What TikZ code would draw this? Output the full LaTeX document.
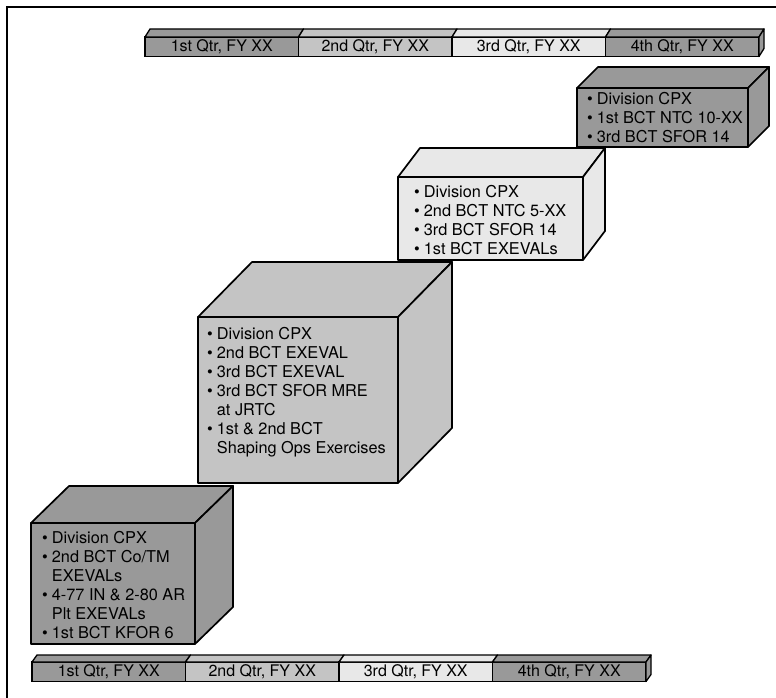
\documentclass[tikz,border=0pt]{standalone}
\usepackage{fontspec}
\setmainfont{TeX Gyre Heros}
\definecolor{qone}{gray}{0.6}
\definecolor{qtwo}{gray}{0.77}
\definecolor{qthree}{gray}{0.91}
\definecolor{qfour}{gray}{0.6}
\tikzset{
  face/.style={draw,line width=1.7pt,line join=round},
  seg/.style={draw,line width=1.3pt,minimum width=153.5pt,minimum height=19.5pt,
    inner sep=0pt,outer sep=0pt,anchor=north west,font=\fontsize{16}{19}\selectfont},
  notes/.style={anchor=north west,inner sep=0pt,align=left,font=\fontsize{16.3}{19}\selectfont}
}
% front corner, back corner offset, colour
\newcommand{\qcube}[7]{%
  \filldraw[face,fill=#7] (#1,#2) -- ++(#5,-#6) -- (#3+#5,#2-#6) -- (#3,#2) -- cycle;
  \filldraw[face,fill=#7] (#3,#2) -- (#3+#5,#2-#6) -- (#3+#5,#4-#6) -- (#3,#4) -- cycle;
  \filldraw[face,fill=#7] (#1,#2) rectangle (#3,#4);}

\begin{document}
\begin{tikzpicture}[x=1pt,y=-1pt]
  \useasboundingbox (0,0) rectangle (776,698);
  \draw[line width=1.6pt] (7,698) -- (7,7) -- (776,7);

  % quarter bars
  \foreach \i/\c/\n in {0/qone/1st,1/qtwo/2nd,2/qthree/3rd,3/qfour/4th} {
    \node[seg,fill=\c] (top\i) at (145+153.5*\i,37) {\n\ Qtr, FY XX};
    \filldraw[face,line width=1.3pt,fill=\c] (top\i.north west) -- ++(5,-8) -- ++(153.5,0) -- (top\i.north east) -- cycle;
    \node[seg,fill=\c] (bot\i) at (32+153.5*\i,662) {\n\ Qtr, FY XX};
    \filldraw[face,line width=1.3pt,fill=\c] (bot\i.north west) -- ++(5,-7) -- ++(153.5,0) -- (bot\i.north east) -- cycle;
  }
  \filldraw[face,line width=1.3pt,fill=qfour] (top3.north east) -- ++(5,-8) -- ++(0,19.5) -- (top3.south east) -- cycle;
  \filldraw[face,line width=1.3pt,fill=qfour] (bot3.north east) -- ++(5,-7) -- ++(0,19.5) -- (bot3.south east) -- cycle;

  % boxes
  \qcube{577}{88}{748}{147}{21}{21}{qfour}
  \qcube{398}{177}{583}{260}{22}{29}{qthree}
  \qcube{198}{317}{398}{483}{54}{55}{qtwo}
  \qcube{31}{523}{195}{644}{38}{37}{qone}

  \node[notes] (n1) at (42,530) {\begin{tabular}{@{}l@{\hspace{4pt}}l@{}}
    \textbullet & Division CPX\\ \textbullet & 2nd BCT Co/TM\\ & EXEVALs\\
    \textbullet & 4-77 IN \& 2-80 AR\\ & Plt EXEVALs\\ \textbullet & 1st BCT KFOR 6\end{tabular}};
  \node[notes] (n2) at (207,326) {\begin{tabular}{@{}l@{\hspace{4pt}}l@{}}
    \textbullet & Division CPX\\ \textbullet & 2nd BCT EXEVAL\\ \textbullet & 3rd BCT EXEVAL\\
    \textbullet & 3rd BCT SFOR MRE\\ & at JRTC\\ \textbullet & 1st \& 2nd BCT\\ & Shaping Ops Exercises\end{tabular}};
  \node[notes] (n3) at (414,184) {\begin{tabular}{@{}l@{\hspace{4pt}}l@{}}
    \textbullet & Division CPX\\ \textbullet & 2nd BCT NTC 5-XX\\
    \textbullet & 3rd BCT SFOR 14\\ \textbullet & 1st BCT EXEVALs\end{tabular}};
  \node[notes] (n4) at (587,91) {\begin{tabular}{@{}l@{\hspace{4pt}}l@{}}
    \textbullet & Division CPX\\ \textbullet & 1st BCT NTC 10-XX\\ \textbullet & 3rd BCT SFOR 14\end{tabular}};
\end{tikzpicture}
\end{document}
